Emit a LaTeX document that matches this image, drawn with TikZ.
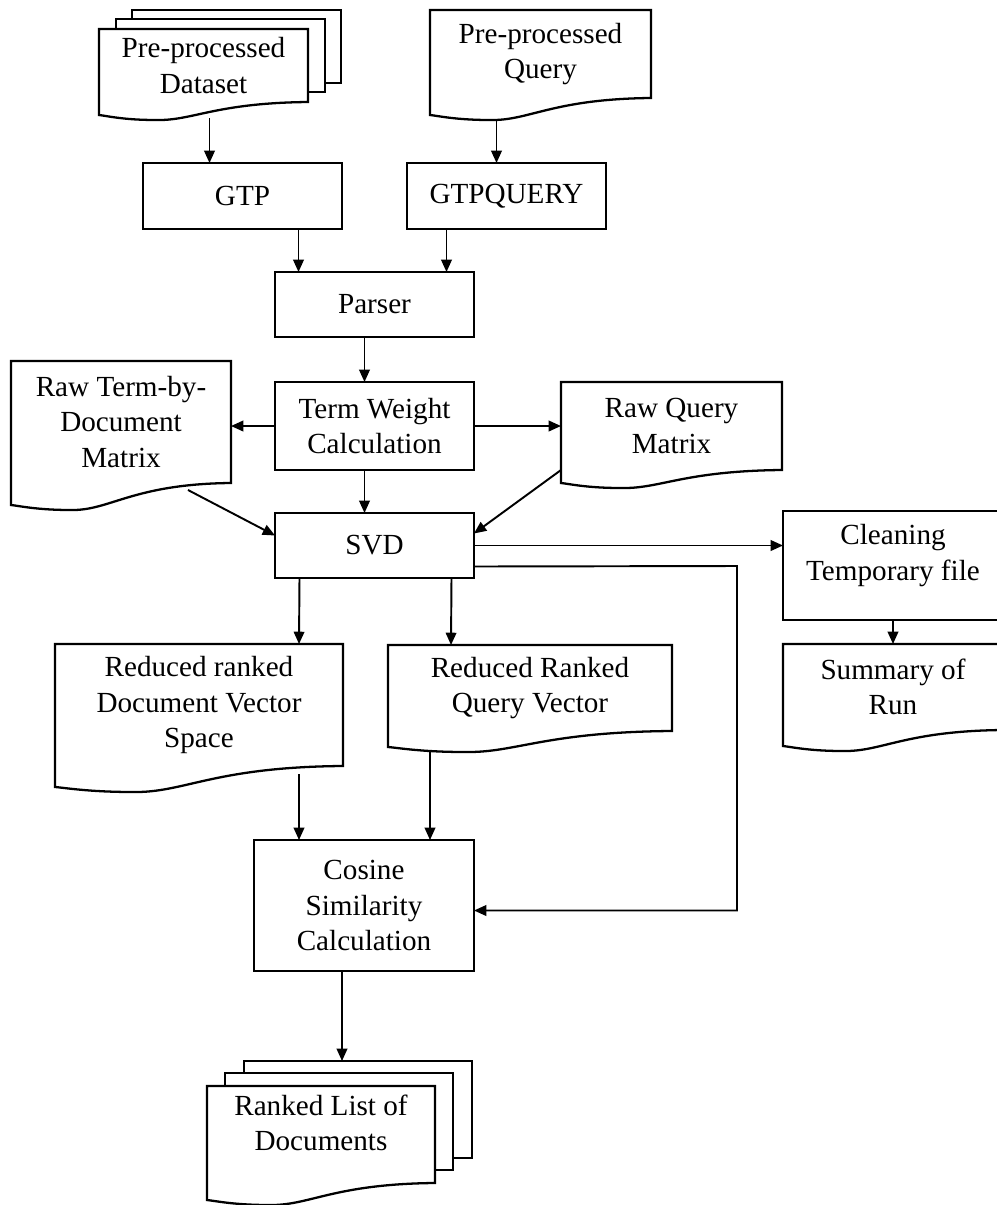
\documentclass[tikz,border=0pt]{standalone}
\usepackage{fontspec}
\setmainfont{Liberation Serif}
\usepackage{tikz}
\usetikzlibrary{arrows.meta, calc, backgrounds}

% document symbol: straight top and sides, wavy bottom edge
\newcommand{\docoutline}[2]{%
  \draw[fill=white] (#1.north west) -- (#1.north east) -- (#1.south east)
    .. controls ($(#1.south west)!0.55!(#1.south east)+(0,1)$) and ($(#1.south west)!0.45!(#1.south east)+(0,#2+6)$)
    .. ($(#1.south west)!0.27!(#1.south east)+(0,#2+5)$)
    .. controls ($(#1.south west)!0.12!(#1.south east)+(0,#2+5)$) and ($(#1.south west)!0.04!(#1.south east)+(0,#2+1)$)
    .. ($(#1.south west)+(0,#2)$) -- cycle;}
% sheet behind a multi-document symbol
\newcommand{\docsheet}[3]{%
  \draw[fill=white] ($(#1.north west)+(#2,#3)$) rectangle ($(#1.south east)+(#2,#3)$);}

\begin{document}
\begin{tikzpicture}[x=0.02cm, y=-0.02cm,
  proc/.style={draw, line width=1.3pt, outer sep=0pt, align=center, font=\fontsize{16.6}{20}\selectfont},
  doc/.style={outer sep=0pt, align=center, font=\fontsize{16.6}{20}\selectfont},
  arr/.style={-{Triangle[length=7pt, width=6pt]}, line width=1.1pt}]
  \useasboundingbox (0,0) rectangle (997,1205);

  \node[doc, minimum width=4.18cm, minimum height=1.46cm] (data) at (203.5,65.5) {Pre-processed\\Dataset};
  \node[doc, minimum width=4.42cm, minimum height=1.76cm] (query) at (540.5,54) {Pre-processed\\Query};
  \node[proc, minimum width=3.98cm, minimum height=1.32cm] (gtp) at (242.5,196) {GTP};
  \node[proc, minimum width=3.98cm, minimum height=1.32cm] (gtpquery) at (506.5,196) {GTPQUERY};
  \node[proc, minimum width=3.98cm, minimum height=1.3cm] (parser) at (374.5,304.5) {Parser};
  \node[doc, minimum width=4.4cm, minimum height=2.44cm] (rawtd) at (121,422) {Raw Term-by-\\Document\\Matrix};
  \node[proc, minimum width=3.98cm, minimum height=1.76cm] (weight) at (374.5,426) {Term Weight\\Calculation};
  \node[doc, minimum width=4.42cm, minimum height=1.76cm] (rawq) at (671.5,426) {Raw Query\\Matrix};
  \node[proc, minimum width=3.98cm, minimum height=1.3cm] (svd) at (374.5,545.5) {SVD};
  \node[proc, minimum width=4.4cm, minimum height=2.18cm, text depth=15pt] (clean) at (893,565.5) {Cleaning\\Temporary file};
  \node[doc, minimum width=5.76cm, minimum height=2.44cm] (reddoc) at (199,705) {Reduced ranked\\Document Vector\\Space};
  \node[doc, minimum width=5.68cm, minimum height=1.72cm] (redquery) at (530,688) {Reduced Ranked\\Query Vector};
  \node[doc, minimum width=4.4cm, minimum height=1.72cm] (summary) at (893,687) {Summary of\\Run};
  \node[proc, minimum width=4.4cm, minimum height=2.62cm] (cosine) at (364,905.5) {Cosine\\Similarity\\Calculation};
  \node[doc, minimum width=4.56cm, minimum height=1.94cm, text depth=13pt] (ranked) at (321,1134.5) {Ranked List of\\Documents};
  \coordinate (turn) at (737,566);

  \begin{scope}[on background layer={line width=1.3pt}]
    \docsheet{data}{33}{-19}
    \docsheet{data}{17}{-10}
    \docoutline{data}{13}
    \docoutline{query}{17}
    \docoutline{rawtd}{22}
    \docoutline{rawq}{13}
    \docoutline{reddoc}{21}
    \docoutline{redquery}{16}
    \docoutline{summary}{16}
    \docsheet{ranked}{37}{-25}
    \docsheet{ranked}{18}{-13}
    \docoutline{ranked}{17}
  \end{scope}

  \draw[arr] ($(data.south)+(6,16)$) -- ($(gtp.north)+(-33,0)$);
  \draw[arr] ($(query.south)+(-44,21)$) -- ($(gtpquery.north)+(-10,0)$);
  \draw[arr] ($(gtp.south)+(56,0)$) -- ($(parser.north)+(-76,0)$);
  \draw[arr] ($(gtpquery.south)+(-60,0)$) -- ($(parser.north)+(72,0)$);
  \draw[arr] ($(parser.south)+(-10,0)$) -- ($(weight.north)+(-10,0)$);
  \draw[arr] (weight.west) -- (weight.west -| rawtd.east);
  \draw[arr] (weight.east) -- (weight.east -| rawq.west);
  \draw[arr] ($(weight.south)+(-10,0)$) -- ($(svd.north)+(-10,0)$);
  \draw[arr] ($(rawtd.south east)+(-43,7)$) -- ($(svd.west)+(0,-10)$);
  \draw[arr] (rawq.south west) -- ($(svd.east)+(0,-12)$);
  \draw[arr] (svd.east) -- (svd.east -| clean.west);
  \draw[arr] ($(svd.east)+(0,21)$) -- (turn) |- ($(cosine.east)+(0,5)$);
  \draw[arr] ($(svd.south)+(-75,0)$) -- ($(reddoc.north)+(100,0)$);
  \draw[arr] ($(svd.south)+(77,0)$) -- ($(redquery.north)+(-79,0)$);
  \draw[arr] (clean.south) -- (summary.north);
  \draw[arr] ($(reddoc.south)+(100,8)$) -- ($(cosine.north)+(-65,0)$);
  \draw[arr] ($(redquery.south)+(-100,20)$) -- ($(cosine.north)+(66,0)$);
  \draw[arr] ($(cosine.south)+(-22,0)$) -- ($(ranked.north)+(21,-25)$);
\end{tikzpicture}
\end{document}
